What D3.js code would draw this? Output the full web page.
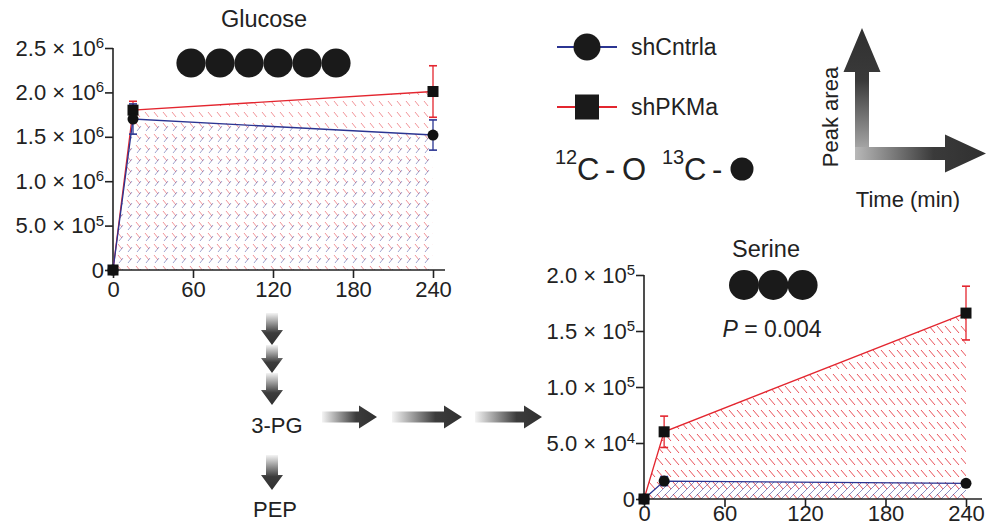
<!DOCTYPE html>
<html>
<head>
<meta charset="utf-8">
<script src="https://cdn.jsdelivr.net/npm/d3@7"></script>
<style>
  body { margin: 0; background: #fff; }
  text { font-family: "Liberation Sans", Arial, Helvetica, sans-serif; fill: #222; }
</style>
</head>
<body>
<svg id="chart" width="986" height="527"></svg>
<script>
// Isotope tracing: glucose and serine peak areas over time

const timeMin = [0, 15, 240];
const xTicks = [0, 60, 120, 180, 240];

const glucoseCntrl = [0, 1.70e6, 1.52e6];
const glucoseCntrlErr = [0, 0.17e6, 0.17e6];
const glucosePKM = [0, 1.80e6, 2.01e6];
const glucosePKMErr = [0, 0.10e6, 0.29e6];
const glucoseYTicks = [0, 5e5, 1e6, 1.5e6, 2e6, 2.5e6];

const serineCntrl = [0, 1.6e4, 1.4e4];
const serineCntrlErr = [0, 0.4e4, 0];
const serinePKM = [0, 6.0e4, 1.66e5];
const serinePKMErr = [0, 1.4e4, 2.4e4];
const serineYTicks = [0, 5e4, 1e5, 1.5e5, 2e5];

const seriesNames = ["shCntrla", "shPKMa"];
const BLUE = "#2b3592", RED = "#e3262f", INK = "#222";

const svg = d3.select("#chart");
const defs = svg.append("defs");

// hatch patterns
function hatch(id, color, d, w, h, opacity, sw) {
  defs.append("pattern").attr("id", id)
    .attr("patternUnits", "userSpaceOnUse").attr("width", w).attr("height", h)
    .append("path").attr("d", d).attr("stroke", color)
    .attr("stroke-width", sw || 1).attr("fill", "none").attr("opacity", opacity);
}
hatch("redDash", RED, "M1,2L7,9", 8, 12, 0.8);
hatch("blueLine", BLUE, "M-2,2L2,-2M0,8L8,0M6,10L10,6", 8, 8, 0.6, 0.9);
hatch("redDashG", RED, "M1,2L5,7", 9, 11, 0.5);
hatch("blueDashG", BLUE, "M2,10L6,5", 9, 11, 0.45);

// arrow gradients (along the arrow's own x direction)
function grad(id, stops) {
  const g = defs.append("linearGradient").attr("id", id)
    .attr("x1", 0).attr("y1", 0).attr("x2", 1).attr("y2", 0);
  stops.forEach(s => g.append("stop").attr("offset", s[0]).attr("stop-color", s[1]));
}
grad("fade", [[0, "#f4f4f4"], [0.62, "#3c3c3c"], [1, "#303030"]]);
grad("axisFade", [[0, "#b8b8b8"], [0.6, "#3a3a3a"], [1, "#303030"]]);

function arrow(x1, y1, x2, y2, sw, hw, hl, fill) {
  const L = Math.hypot(x2 - x1, y2 - y1);
  const a = Math.atan2(y2 - y1, x2 - x1) * 180 / Math.PI;
  const p = `M0,${-sw/2}L${L-hl},${-sw/2}L${L-hl},${-hw/2}L${L},0L${L-hl},${hw/2}L${L-hl},${sw/2}L0,${sw/2}Z`;
  svg.append("path").attr("d", p)
    .attr("transform", `translate(${x1},${y1}) rotate(${a})`)
    .attr("fill", `url(#${fill})`);
}

function sciLabel(sel) {
  sel.each(function(d) {
    const t = d3.select(this).text(null);
    if (d === 0) { t.text("0"); return; }
    const e = Math.floor(Math.log10(d));
    t.append("tspan").text(`${(d / 10 ** e).toFixed(1)} \u00d7 10`);
    t.append("tspan").attr("dy", "-0.5em").attr("font-size", "0.68em").text(e);
  });
}

function panel(cfg) {
  const x = d3.scaleLinear().domain([0, 240]).range([cfg.left, cfg.right]);
  const y = d3.scaleLinear().domain([0, cfg.yMax]).range([cfg.bottom, cfg.top]);
  const g = svg.append("g");

  const area = vals => d3.area().x((d, i) => x(timeMin[i])).y0(y(0)).y1(d => y(d))(vals);
  const line = vals => d3.line().x((d, i) => x(timeMin[i])).y(d => y(d))(vals);

  cfg.series.forEach(s => s.fills.forEach(f =>
    g.append("path").attr("d", area(s.vals)).attr("fill", `url(#${f})`)));

  const xa = g.append("g").attr("transform", `translate(0,${cfg.bottom})`)
    .call(d3.axisBottom(x).tickValues(xTicks).tickSize(8).tickPadding(cfg.xPad).tickFormat(d3.format("d")));
  const ya = g.append("g").attr("transform", `translate(${cfg.left},0)`)
    .call(d3.axisLeft(y).tickValues(cfg.yTicks).tickSize(8).tickPadding(1).tickSizeOuter(0));
  ya.selectAll(".tick text").call(sciLabel);
  [xa, ya].forEach(a => {
    a.select(".domain").remove();
    a.selectAll(".tick line").attr("stroke", INK).attr("stroke-width", 1.6);
    a.selectAll(".tick text").attr("font-size", 22).attr("fill", INK)
      .style("font-family", "'Liberation Sans', Arial, sans-serif");
  });
  g.append("line").attr("x1", cfg.left).attr("x2", cfg.right + cfg.ext)
    .attr("y1", cfg.bottom).attr("y2", cfg.bottom).attr("stroke", INK).attr("stroke-width", 1.6);
  g.append("line").attr("x1", cfg.left).attr("x2", cfg.left)
    .attr("y1", cfg.bottom).attr("y2", cfg.top).attr("stroke", INK).attr("stroke-width", 1.6);

  cfg.series.forEach(s => {
    g.append("path").attr("d", line(s.vals)).attr("fill", "none")
      .attr("stroke", s.color).attr("stroke-width", 1.3);
    s.vals.forEach((v, i) => {
      const e = s.err[i];
      if (!e) return;
      const cx = x(timeMin[i]);
      g.append("line").attr("x1", cx).attr("x2", cx).attr("y1", y(v - e)).attr("y2", y(v + e))
        .attr("stroke", s.color).attr("stroke-width", 1.3);
      [v - e, v + e].forEach(c => g.append("line").attr("x1", cx - 4).attr("x2", cx + 4)
        .attr("y1", y(c)).attr("y2", y(c)).attr("stroke", s.color).attr("stroke-width", 1.6));
    });
  });
  cfg.series.forEach(s => s.vals.forEach((v, i) => {
    const cx = x(timeMin[i]), cy = y(v);
    if (s.shape === "circle") g.append("circle").attr("cx", cx).attr("cy", cy).attr("r", 5.5).attr("fill", "#111");
    else g.append("rect").attr("x", cx - 5.5).attr("y", cy - 5.5).attr("width", 11).attr("height", 11).attr("fill", "#111");
  }));
}

panel({
  left: 113, right: 433, top: 48, bottom: 270, ext: 12, xPad: 3, yMax: 2.5e6, yTicks: glucoseYTicks,
  series: [
    { vals: glucosePKM, err: glucosePKMErr, color: RED, shape: "square", fills: ["redDashG"] },
    { vals: glucoseCntrl, err: glucoseCntrlErr, color: BLUE, shape: "circle", fills: ["blueDashG"] }
  ]
});
panel({
  left: 644, right: 966, top: 275, bottom: 499, ext: 16, xPad: -2, yMax: 2e5, yTicks: serineYTicks,
  series: [
    { vals: serinePKM, err: serinePKMErr, color: RED, shape: "square", fills: ["redDash"] },
    { vals: serineCntrl, err: serineCntrlErr, color: BLUE, shape: "circle", fills: ["blueLine"] }
  ]
});

// titles and carbon circles
svg.append("text").attr("x", 264).attr("y", 27).attr("text-anchor", "middle").attr("font-size", 23.5).text("Glucose");
d3.range(6).forEach(i => svg.append("circle").attr("cx", 191 + i * 29).attr("cy", 63).attr("r", 14.6).attr("fill", "#1a1a1a"));
svg.append("text").attr("x", 766).attr("y", 257).attr("text-anchor", "middle").attr("font-size", 23.5).text("Serine");
d3.range(3).forEach(i => svg.append("circle").attr("cx", 744 + i * 29.3).attr("cy", 285).attr("r", 15).attr("fill", "#1a1a1a"));
const pt = svg.append("text").attr("x", 772).attr("y", 337).attr("text-anchor", "middle").attr("font-size", 23);
pt.append("tspan").attr("font-style", "italic").text("P");
pt.append("tspan").text(" = 0.004");

// legend
[[47, BLUE, "circle"], [107, RED, "square"]].forEach(([ly, c, shape], i) => {
  svg.append("line").attr("x1", 557).attr("x2", 617).attr("y1", ly).attr("y2", ly).attr("stroke", c).attr("stroke-width", 2.2);
  if (shape === "circle") svg.append("circle").attr("cx", 587).attr("cy", ly).attr("r", 13.5).attr("fill", "#1a1a1a");
  else svg.append("rect").attr("x", 575).attr("y", ly - 12.5).attr("width", 24).attr("height", 25).attr("fill", "#1a1a1a");
  svg.append("text").attr("x", 631).attr("y", ly + 8).attr("font-size", 23).text(seriesNames[i]);
});
const iso = svg.append("text").attr("font-size", 31);
iso.append("tspan").attr("x", 555).attr("y", 164).attr("font-size", 20).text("12");
iso.append("tspan").attr("x", "577 605").attr("y", 180).text("C-");
iso.append("tspan").attr("x", 622).attr("y", 180).attr("transform", "scale(1.1,1)").text("O");
iso.append("tspan").attr("x", 662).attr("y", 164).attr("font-size", 20).text("13");
iso.append("tspan").attr("x", "684 712").attr("y", 180).text("C-");
svg.append("circle").attr("cx", 742).attr("cy", 169).attr("r", 11.5).attr("fill", "#1a1a1a");

// peak area / time axes
arrow(862, 160, 862, 28, 14, 37, 44, "axisFade");
arrow(855, 153.5, 986, 153.5, 13, 38, 41, "axisFade");
svg.append("text").attr("transform", "translate(838,117) rotate(-90)").attr("text-anchor", "middle").attr("font-size", 22).text("Peak area");
svg.append("text").attr("x", 908).attr("y", 207).attr("text-anchor", "middle").attr("font-size", 22).text("Time (min)");

// pathway arrows
[[313, 345], [345, 373], [373, 405], [455, 490]].forEach(([a, b]) => arrow(272, a, 272, b, 12, 22, 15, "fade"));
[[322, 377], [392, 462], [475, 542]].forEach(([a, b]) => arrow(a, 417, b, 417, 11, 23, 18, "fade"));
svg.append("text").attr("x", 277).attr("y", 433).attr("text-anchor", "middle").attr("font-size", 22).text("3-PG");
svg.append("text").attr("x", 275).attr("y", 517).attr("text-anchor", "middle").attr("font-size", 22).text("PEP");
</script>
</body>
</html>
